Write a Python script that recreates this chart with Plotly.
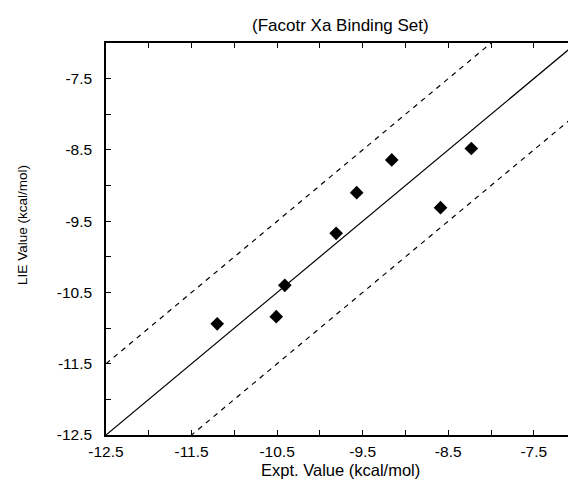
import plotly.graph_objects as go

# Data
expt_values = [-11.20, -10.51, -10.41, -9.81, -9.57, -9.16, -8.59, -8.23]
lie_values = [-10.94, -10.84, -10.40, -9.67, -9.10, -8.64, -9.31, -8.48]

diag_x = [-12.5, -7.0]
band_offset = 1.0

tick_vals = [-12.5, -12.0, -11.5, -11.0, -10.5, -10.0, -9.5, -9.0, -8.5, -8.0, -7.5, -7.0]
tick_text = ["-12.5", "", "-11.5", "", "-10.5", "", "-9.5", "", "-8.5", "", "-7.5", ""]

title_text = "(Facotr Xa Binding Set)"
x_title = "Expt. Value (kcal/mol)"
y_title = "LIE Value (kcal/mol)"

FONT = "Liberation Sans, Arial, Helvetica, sans-serif"

fig = go.Figure()

fig.add_trace(go.Scatter(
    x=diag_x, y=diag_x, mode="lines",
    line=dict(color="black", width=1.2), showlegend=False, hoverinfo="skip"))
fig.add_trace(go.Scatter(
    x=diag_x, y=[v + band_offset for v in diag_x], mode="lines",
    line=dict(color="black", width=1.2, dash="5px,5px"), showlegend=False, hoverinfo="skip"))
fig.add_trace(go.Scatter(
    x=diag_x, y=[v - band_offset for v in diag_x], mode="lines",
    line=dict(color="black", width=1.2, dash="5px,5px"), showlegend=False, hoverinfo="skip"))
fig.add_trace(go.Scatter(
    x=expt_values, y=lie_values, mode="markers",
    marker=dict(symbol="diamond", size=10.5, color="black", line=dict(width=0)),
    showlegend=False, cliponaxis=False))

axis_common = dict(
    tickmode="array", tickvals=tick_vals, ticktext=tick_text,
    ticks="inside", ticklen=5, tickwidth=1, tickcolor="black",
    showline=True, linecolor="black", linewidth=1.5,
    showgrid=False, zeroline=False,
    tickfont=dict(family=FONT, size=15.5, color="black"),
)

fig.update_xaxes(range=[-12.5, -7.1], mirror="ticks", ticklabelstandoff=2, **axis_common)
fig.update_yaxes(range=[-12.5, -7.0], mirror=False, ticklabelstandoff=9, **axis_common)

fig.add_annotation(text=title_text, xref="paper", yref="paper",
                   x=0.507, y=1.0, yshift=18, xanchor="center", yanchor="middle",
                   showarrow=False, font=dict(family=FONT, size=17, color="black"))
fig.add_annotation(text=x_title, xref="paper", yref="paper",
                   x=0.507, y=0.0, yshift=-35, xanchor="center", yanchor="middle",
                   showarrow=False, font=dict(family=FONT, size=16.5, color="black"))
fig.add_annotation(text=y_title, xref="paper", yref="paper",
                   x=0.0, xshift=-83, y=0.536, xanchor="center", yanchor="middle",
                   textangle=-90,
                   showarrow=False, font=dict(family=FONT, size=13.5, color="black"))

fig.update_layout(
    width=568, height=481,
    margin=dict(l=106, r=0, t=43, b=46, pad=0),
    paper_bgcolor="white", plot_bgcolor="white",
    font=dict(family=FONT, color="black"),
)

fig.write_html(
    "out.html",
    config={"displayModeBar": False},
    post_script="document.body.style.margin='0';document.body.style.overflow='hidden';",
)
